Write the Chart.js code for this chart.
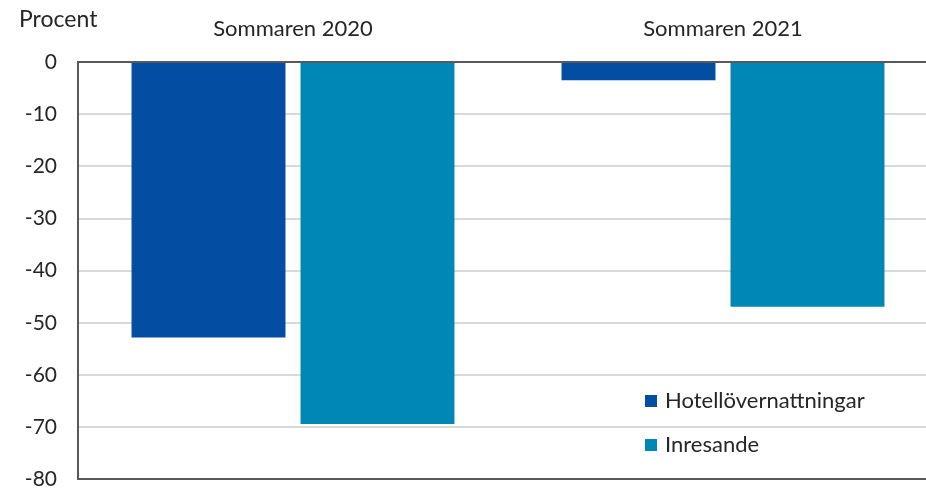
<!DOCTYPE html>
<html>
<head>
<meta charset="utf-8">
<script src="https://cdn.jsdelivr.net/npm/chart.js@4"></script>
<style>
  html, body { margin: 0; padding: 0; background: #fff; overflow: hidden; }
  #wrap { width: 926px; height: 488px; overflow: hidden; position: relative; }
</style>
</head>
<body>
<div id="wrap"><canvas id="myChart"></canvas></div>
<script>
var categories = ['Sommaren 2020', 'Sommaren 2021'];
var hotell = [-52.8, -3.5];
var inresande = [-69.4, -46.9];
var seriesNames = ['Hotellövernattningar', 'Inresande'];
var yTitle = 'Procent';

var FONT = 'Lato, "Open Sans", sans-serif';
var TEXT = '#262626';

// y-axis title, legend in the plot corner
var extras = {
  id: 'extras',
  afterDraw: function (chart) {
    var ctx = chart.ctx;
    ctx.save();
    ctx.fillStyle = TEXT;
    ctx.textBaseline = 'middle';
    ctx.textAlign = 'left';
    ctx.font = '23px ' + FONT;
    ctx.fillText(yTitle, 19, 20);

    ctx.font = '22px ' + FONT;
    var rows = [401, 445];
    chart.data.datasets.forEach(function (ds, i) {
      ctx.fillStyle = ds.backgroundColor;
      ctx.fillRect(645, rows[i] - 6, 12, 12);
      ctx.fillStyle = TEXT;
      ctx.fillText(ds.label, 665, rows[i]);
    });
    ctx.restore();
  }
};

var data = {
  labels: categories,
  datasets: [{
    label: seriesNames[0],
    backgroundColor: '#034EA2',
    data: hotell
  }, {
    label: seriesNames[1],
    backgroundColor: '#0087B5',
    data: inresande
  }]
};

var config = {
  type: 'bar',
  data: data,
  plugins: [extras],
  options: {
    responsive: false,
    animation: false,
    layout: { padding: { left: 0, right: 2, top: 0, bottom: 0 } },
    datasets: {
      bar: { categoryPercentage: 0.786, barPercentage: 0.911 }
    },
    plugins: {
      legend: { display: false },
      tooltip: { enabled: false }
    },
    scales: {
      x: {
        position: 'top',
        afterFit: function (s) { s.height = 62; },
        grid: { display: false, drawTicks: false },
        border: { display: true, color: '#595959', width: 2 },
        ticks: { color: TEXT, padding: 20, font: { family: FONT, size: 22 } }
      },
      y: {
        min: -80,
        max: 0,
        afterFit: function (s) { s.width = 78; },
        ticks: { stepSize: 10, color: TEXT, padding: 21, font: { family: FONT, size: 21 } },
        grid: {
          drawTicks: false,
          color: function (c) { return c.tick.value === -80 ? '#595959' : '#d9d9d9'; },
          lineWidth: 2
        },
        border: { display: true, color: '#595959', width: 2 }
      }
    }
  }
};

var canvas = document.getElementById('myChart');
canvas.width = 940;
canvas.height = 513;
var myChart = new Chart(canvas, config);
</script>
</body>
</html>
